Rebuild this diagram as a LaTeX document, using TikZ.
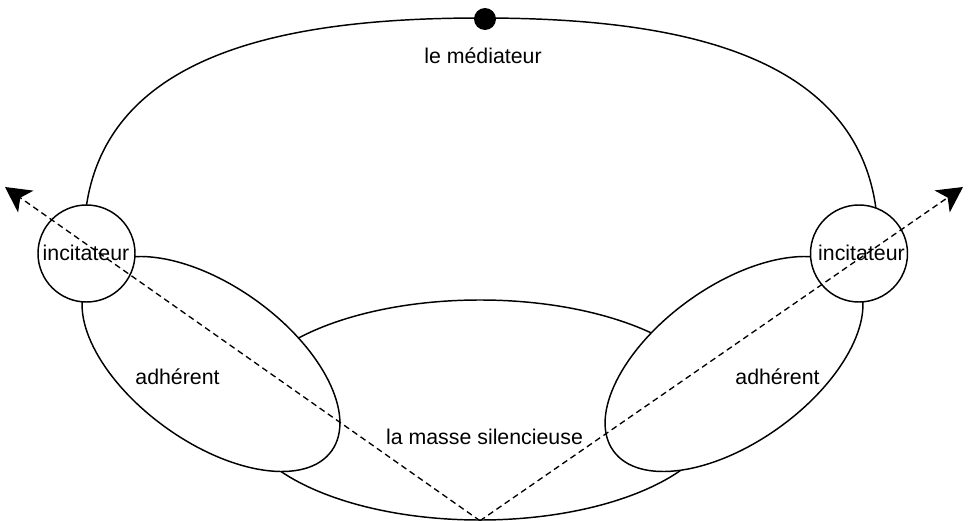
\documentclass[tikz,border=0pt]{standalone}
\usepackage{fontspec}
\setmainfont{Liberation Sans}
\usetikzlibrary{shapes.geometric,arrows.meta}
\begin{document}
\begin{tikzpicture}[x=0.75pt,y=-0.75pt,
  outline/.style={draw=black, line width=1.1pt},
  shapeline/.style={outline, fill=white, inner sep=0pt},
  lbl/.style={font=\fontsize{16}{19}\selectfont, text=black, inner sep=0pt, anchor=base},
  dashline/.style={line width=1pt, dash pattern=on 4.5pt off 3pt,
    -{Stealth[length=19pt,width=20pt,inset=5pt]}}
]
\useasboundingbox (0,0) rectangle (972,521);
% big outer shape (its lower part is hidden)
\draw[outline] (84,240) .. controls (84,50) and (291,18) .. (481,18)
  .. controls (671,18) and (878,50) .. (878,240);
% la masse silencieuse
\node[shapeline, ellipse, minimum width=360pt, minimum height=165pt] (masse) at (480,410) {};
% adherents
\node[shapeline, ellipse, rotate=-35.8, minimum width=223pt, minimum height=116.9pt] (adhL) at (211,364) {};
\node[shapeline, ellipse, rotate=35.8, minimum width=223pt, minimum height=116.9pt] (adhR) at (734,364) {};
% incitateurs
\node[shapeline, circle, minimum size=72.75pt] (incL) at (86.5,253.5) {};
\node[shapeline, circle, minimum size=72.75pt] (incR) at (859,253.5) {};
% mediateur dot
\node[circle, fill=black, minimum size=16.5pt, inner sep=0pt] (dot) at (485,19) {};
% labels
\node[lbl] (tmed) at (483,63) {le médiateur};
\node[lbl] (tincL) at (86,260) {incitateur};
\node[lbl] (tincR) at (861.5,260) {incitateur};
\node[lbl] (tadhL) at (177.5,384) {adhérent};
\node[lbl] (tadhR) at (777.5,384) {adhérent};
\node[lbl] (tmasse) at (484.5,444) {la masse silencieuse};
% dashed arrows
\coordinate (tipL) at (5,187);
\coordinate (tipR) at (963,187);
\draw[dashline] (masse.south) -- (tipL);
\draw[dashline] (masse.south) -- (tipR);
\end{tikzpicture}
\end{document}
